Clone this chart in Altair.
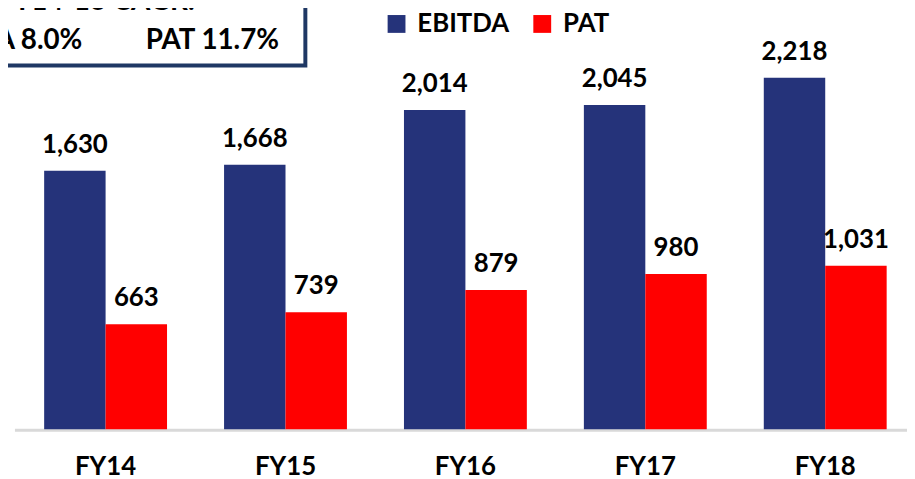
import altair as alt
import pandas as pd

years = ["FY14", "FY15", "FY16", "FY17", "FY18"]
ebitda = [1630, 1668, 2014, 2045, 2218]
pat = [663, 739, 879, 980, 1031]
metrics = ["EBITDA", "PAT"]
colors = ["#25337A", "#FF0000"]
box_title = "FY14-18 CAGR:"
box_left = "EBITDA 8.0%"
box_right = "PAT 11.7%"

rows = []
for i, y in enumerate(years):
    rows.append({"Year": y, "Metric": "EBITDA", "Value": ebitda[i], "Label": f"{ebitda[i]:,}"})
    rows.append({"Year": y, "Metric": "PAT", "Value": pat[i], "Label": f"{pat[i]:,}"})
df = pd.DataFrame(rows)

FONT = "Lato"
W, H = 907, 423

xenc = alt.X("Year:N", sort=years, title=None,
             scale=alt.Scale(domain=years, paddingInner=0.317,
                             paddingOuter=0.157, align=0.64),
             axis=alt.Axis(labelAngle=0, labelFont=FONT, labelFontSize=26, labelFontWeight="bold",
                           labelColor="black", domainColor="#D9D9D9", domainWidth=3,
                           ticks=False, labelPadding=25))
yenc = alt.Y("Value:Q", scale=alt.Scale(domain=[0, 2644], nice=False), axis=None)
xoff = alt.XOffset("Metric:N", sort=metrics, scale=alt.Scale(domain=metrics, paddingInner=0, paddingOuter=0))

base = alt.Chart(df)
bars = base.mark_bar().encode(
    x=xenc, y=yenc, xOffset=xoff,
    color=alt.Color("Metric:N", sort=metrics,
                    scale=alt.Scale(domain=metrics, range=colors),
                    legend=alt.Legend(orient="none", legendX=379, legendY=1, direction="horizontal",
                                      title=None, symbolType="square", symbolSize=324,
                                      symbolStrokeWidth=0, labelFont=FONT, labelFontSize=26,
                                      labelFontWeight="bold", labelColor="black",
                                      labelOffset=8, columnPadding=20)),
)
labels = base.mark_text(font=FONT, fontSize=26, fontWeight="bold", color="black",
                        baseline="alphabetic", dy=-18).encode(
    x=xenc, y=yenc, xOffset=xoff, text="Label:N")

one = pd.DataFrame({"a": [0]})
axis_line = alt.Chart(one).mark_rule(color="#D9D9D9", strokeWidth=3).encode(
    x=alt.value(7), x2=alt.value(907), y=alt.value(H + 1))
box = alt.Chart(one).mark_rect(fill="white", stroke="#1F3864", strokeWidth=4).encode(
    x=alt.value(-250), x2=alt.value(300), y=alt.value(-100), y2=alt.value(56))
t1 = alt.Chart(one).mark_text(font=FONT, fontSize=28, fontWeight="bold", color="black",
                              baseline="alphabetic", align="center").encode(
    x=alt.value(89), y=alt.value(0), text=alt.value(box_title))
t2 = alt.Chart(one).mark_text(font=FONT, fontSize=28, fontWeight="bold", color="black",
                              baseline="alphabetic", align="right").encode(
    x=alt.value(75), y=alt.value(39), text=alt.value(box_left))
t3 = alt.Chart(one).mark_text(font=FONT, fontSize=28, fontWeight="bold", color="black",
                              baseline="alphabetic", align="left").encode(
    x=alt.value(139), y=alt.value(39), text=alt.value(box_right))

chart = alt.layer(axis_line, bars, labels, box, t1, t2, t3).properties(
    width=W, height=H,
    autosize=alt.AutoSizeParams(type="none"),
    padding={"left": 0, "right": 0, "top": 0, "bottom": 48},
).configure_view(stroke=None).configure_axisX(domain=False)

chart.save("out.html", embed_options={"renderer": "svg", "actions": False})
